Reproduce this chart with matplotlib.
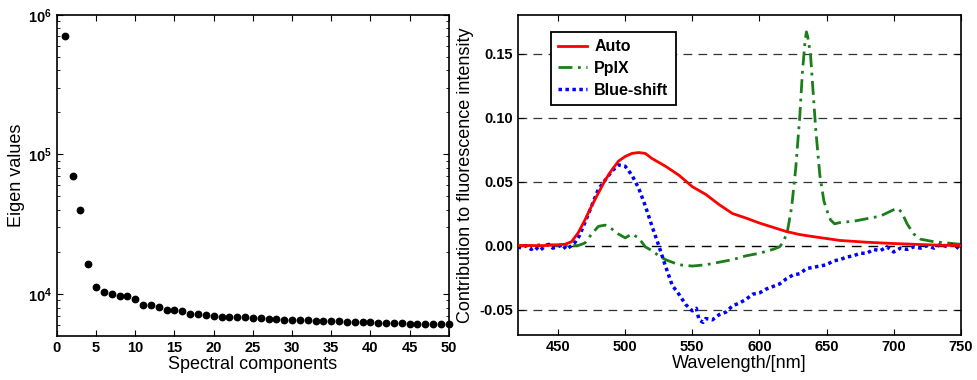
import math

import matplotlib
matplotlib.use("Agg")
import matplotlib.pyplot as plt
from matplotlib.ticker import FixedLocator, FuncFormatter, LogLocator, NullFormatter

plt.rcParams["font.family"] = ["Liberation Sans", "DejaVu Sans"]
plt.rcParams["mathtext.fontset"] = "custom"
plt.rcParams["mathtext.rm"] = "Liberation Sans:bold"
plt.rcParams["mathtext.bf"] = "Liberation Sans:bold"

# left panel: eigenvalue spectrum
components = list(range(1, 51))
eigen_values = [
    711000, 69500, 40200, 16500, 11200, 10300, 9950, 9690, 9650, 9160,
    8390, 8300, 8030, 7730, 7730, 7510, 7230, 7200, 7110, 6920,
    6900, 6850, 6830, 6800, 6700, 6720, 6680, 6620, 6550, 6540,
    6520, 6470, 6450, 6400, 6400, 6380, 6330, 6320, 6310, 6300,
    6250, 6240, 6200, 6190, 6150, 6140, 6130, 6120, 6080, 6070,
]

# right panel: component spectra
wl_auto = [420, 440, 455, 460, 465, 470, 475, 480, 485, 490, 495, 500, 505, 510,
           515, 520, 530, 540, 550, 560, 570, 580, 590, 600, 610, 620, 630, 640,
           650, 660, 680, 700, 720, 735, 750]
auto = [0.0, 0.0, 0.001, 0.003, 0.010, 0.020, 0.031, 0.041, 0.051, 0.059, 0.066,
        0.0696, 0.072, 0.0727, 0.072, 0.068, 0.062, 0.055, 0.046, 0.040, 0.032,
        0.025, 0.0215, 0.0176, 0.0143, 0.011, 0.0086, 0.007, 0.0055, 0.004,
        0.0026, 0.0016, 0.0008, 0.0003, 0.0]

wl_ppix = [420, 430, 440, 450, 460, 465, 470, 475, 480, 485, 490, 495, 500, 505,
           510, 515, 520, 525, 530, 540, 550, 560, 570, 580, 590, 600, 610, 615,
           618, 621, 624, 627, 630, 632, 634, 635, 636, 638, 640, 642, 645, 648,
           650, 653, 656, 660, 670, 680, 690, 700, 703, 706, 710, 715, 720, 730,
           740, 750]
ppix = [0.0, 0.0, 0.001, 0.0, 0.0, 0.0, 0.002, 0.009, 0.015, 0.016, 0.013, 0.009,
        0.006, 0.009, 0.006, -0.001, -0.004, -0.008, -0.011, -0.015, -0.016,
        -0.015, -0.013, -0.011, -0.008, -0.006, -0.003, -0.001, 0.003, 0.012,
        0.030, 0.060, 0.100, 0.135, 0.160, 0.167, 0.163, 0.150, 0.120, 0.090,
        0.055, 0.035, 0.028, 0.020, 0.017, 0.018, 0.019, 0.021, 0.023, 0.028,
        0.029, 0.026, 0.017, 0.009, 0.005, 0.003, 0.002, 0.001]

wl_blue = [420, 423, 426, 430, 433, 436, 440, 443, 446, 450, 453, 456, 460, 463,
           466, 470, 475, 480, 485, 490, 495, 500, 505, 510, 515, 520, 525, 530,
           535, 540, 545, 550, 553, 555, 558, 560, 565, 570, 575, 580, 585, 590,
           595, 600, 605, 610, 615, 620, 625, 630, 635, 640, 645, 650, 655, 660,
           665, 670, 675, 680, 685, 690, 695, 700, 705, 710, 715, 720, 725, 730,
           735, 740, 745, 750]
blue_shift = [-0.001, -0.002, 0.000, -0.003, -0.001, -0.004, -0.001, 0.001,
              -0.002, -0.001, 0.001, -0.003, 0.000, 0.003, 0.008, 0.018, 0.031,
              0.044, 0.051, 0.058, 0.063, 0.062, 0.055, 0.045, 0.031, 0.015, 0.0,
              -0.016, -0.031, -0.038, -0.046, -0.051, -0.049, -0.058, -0.060,
              -0.057, -0.058, -0.054, -0.052, -0.047, -0.045, -0.042, -0.038,
              -0.037, -0.034, -0.032, -0.030, -0.026, -0.023, -0.022, -0.018,
              -0.017, -0.016, -0.015, -0.012, -0.011, -0.009, -0.008, -0.006,
              -0.006, -0.003, -0.004, -0.001, -0.005, -0.002, -0.003, -0.001,
              -0.002, 0.000, -0.002, 0.001, -0.001, 0.001, -0.004]

fig = plt.figure(figsize=(9.77, 3.80), dpi=100)
ax1 = fig.add_axes([0.0583, 0.116, 0.401, 0.845])
ax2 = fig.add_axes([0.530, 0.118, 0.4534, 0.842])

# ---- left
ax1.semilogy(components, eigen_values, "o", color="black", ms=4.6, clip_on=False)
ax1.set_xlim(0, 50)
ax1.set_ylim(10 ** 3.7, 1e6)
ax1.set_xticks(range(0, 51, 5))
ax1.yaxis.set_major_locator(FixedLocator([1e4, 1e5, 1e6]))
ax1.yaxis.set_major_formatter(FuncFormatter(lambda v, p: r"$\mathbf{10^{%d}}$" % round(math.log10(v))))
ax1.yaxis.set_minor_locator(LogLocator(base=10, subs=range(2, 10)))
ax1.yaxis.set_minor_formatter(NullFormatter())
ax1.set_xlabel("Spectral components", fontsize=13, labelpad=1)
ax1.set_ylabel("Eigen values", fontsize=13, labelpad=2)

# ---- right
ax2.axhline(0, color="black", lw=1.0, ls=(0, (7, 5)), zorder=1)
for yv in (-0.05, 0.05, 0.10, 0.15):
    ax2.axhline(yv, color="#333333", lw=0.9, ls=(0, (7, 5)), zorder=1)
ax2.plot(wl_auto, auto, color="red", lw=2.0, label="Auto", zorder=3)
ax2.plot(wl_ppix, ppix, color="#1a7f1a", lw=2.0, ls=(0, (5, 2, 1, 2)), label="PpIX", zorder=2)
ax2.plot(wl_blue, blue_shift, color="blue", lw=2.5, ls=(0, (1, 1)), label="Blue-shift", zorder=2)
ax2.set_xlim(420, 750)
ax2.set_ylim(-0.07, 0.18)
ax2.set_xticks(range(450, 751, 50))
ax2.set_yticks([-0.05, 0.0, 0.05, 0.10, 0.15])
ax2.set_yticklabels(["-0.05", "0.00", "0.05", "0.10", "0.15"])
ax2.set_xlabel("Wavelength/[nm]", fontsize=13, labelpad=1)
ax2.set_ylabel("Contribution to fluorescence intensity", fontsize=13, labelpad=4)
leg = ax2.legend(loc="upper left", bbox_to_anchor=(0.075, 0.947), borderaxespad=0,
                 frameon=True, fancybox=False, edgecolor="black", framealpha=1,
                 handlelength=1.8, handletextpad=0.45, borderpad=0.45,
                 labelspacing=0.42, prop={"weight": "bold", "size": 11.5})
leg.get_frame().set_linewidth(1.3)

for ax in (ax1, ax2):
    ax.tick_params(which="both", direction="in", top=True, right=True, labelsize=10.5)
    ax.tick_params(which="major", length=4, width=0.8)
    ax.tick_params(which="minor", length=2, width=0.6)
    for lab in ax.get_xticklabels() + ax.get_yticklabels():
        lab.set_fontweight("bold")
    for s in ax.spines.values():
        s.set_linewidth(1.2)

fig.savefig("out.png", dpi=100, facecolor="white")
